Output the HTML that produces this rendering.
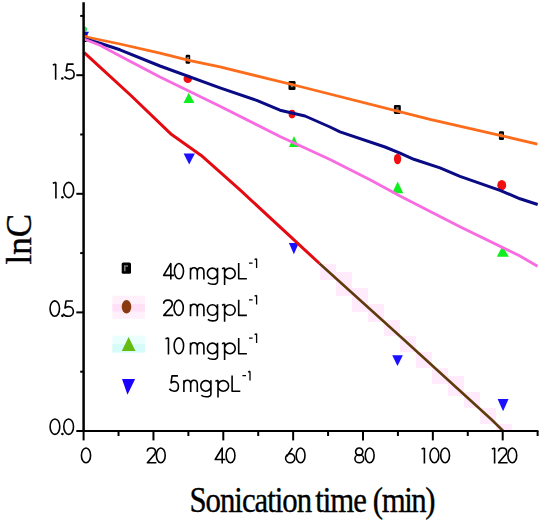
<!DOCTYPE html>
<html><head><meta charset="utf-8"><style>
html,body{margin:0;padding:0;background:#fff;width:550px;height:523px;overflow:hidden}
svg{display:block}
</style></head><body>
<svg width="550" height="523" viewBox="0 0 550 523">
<rect x="320" y="264" width="16" height="16" fill="#ffebfb"/><rect x="336" y="272" width="16" height="24" fill="#ffebfb"/><rect x="352" y="288" width="16" height="24" fill="#ffebfb"/><rect x="368" y="304" width="16" height="18" fill="#ffebfb"/><rect x="384" y="320" width="16" height="16" fill="#ffebfb"/><rect x="400" y="336" width="16" height="16" fill="#ffebfb"/><rect x="416" y="352" width="16" height="16" fill="#ffebfb"/><rect x="432" y="368" width="16" height="16" fill="#ffebfb"/><rect x="448" y="376" width="16" height="20" fill="#ffebfb"/><rect x="464" y="392" width="16" height="16" fill="#ffebfb"/><rect x="480" y="408" width="16" height="16" fill="#ffebfb"/><rect x="496" y="424" width="16" height="7" fill="#ffebfb"/>
<defs><clipPath id="pa"><rect x="84" y="0" width="470" height="431"/></clipPath></defs>
<g clip-path="url(#pa)">
<rect x="80.0" y="33.0" width="7.0" height="9.0" rx="1.3" fill="#000"/><rect x="82.3" y="35.2" width="2.4" height="4" fill="#777"/>
<ellipse cx="83.80" cy="36.25" rx="3.80" ry="4.25" fill="#f01010"/>
<ellipse cx="84.6" cy="29.2" rx="2.4" ry="2.6" fill="#30e060"/>
<polygon points="83,31.8 89,31.8 87.3,35 83,35" fill="#1010d0"/>
</g>
<rect x="185.6" y="54.7" width="4.6" height="9.1" rx="1.3" fill="#000"/><rect x="186.7" y="57.0" width="2.4" height="4" fill="#777"/>
<ellipse cx="187.80" cy="78.85" rx="4.30" ry="4.15" fill="#f01010"/>
<polygon points="188.7,92.7 194.4,103.0 183.5,103.0" fill="#10ee20"/>
<polygon points="183.6,153.5 194.9,153.5 189.2,164.6" fill="#1a10ff"/>
<rect x="288.5" y="80.9" width="7.0" height="9.1" rx="1.3" fill="#000"/><rect x="290.8" y="83.2" width="2.4" height="4" fill="#777"/>
<ellipse cx="292.05" cy="114.10" rx="3.45" ry="4.30" fill="#f01010"/>
<polygon points="294.0,136.1 298.9,147.0 289.0,147.0" fill="#10ee20"/>
<polygon points="288.9,243.1 298.8,243.1 293.9,254.2" fill="#1a10ff"/>
<rect x="393.9" y="105.1" width="6.9" height="8.8" rx="1.3" fill="#000"/><rect x="396.2" y="107.2" width="2.4" height="4" fill="#777"/>
<ellipse cx="397.55" cy="159.00" rx="3.65" ry="5.20" fill="#f01010"/>
<polygon points="397.7,181.6 403.3,193.2 392.0,193.2" fill="#10ee20"/>
<polygon points="392.2,355.3 402.9,355.3 397.5,366.0" fill="#1a10ff"/>
<rect x="498.9" y="131.3" width="5.1" height="8.8" rx="1.3" fill="#000"/><rect x="500.2" y="133.4" width="2.4" height="4" fill="#777"/>
<ellipse cx="501.75" cy="185.15" rx="4.45" ry="5.15" fill="#f01010"/>
<polygon points="502.5,246.1 508.8,256.7 496.8,256.7" fill="#10ee20"/>
<polygon points="497.6,399.0 508.5,399.0 503.1,411.2" fill="#1a10ff"/>
<polyline points="84.0,36.5 120.0,44.0 160.0,53.1 190.0,60.6 220.0,66.9 300.0,86.5 430.0,119.4 500.0,135.3 537.4,144.2" fill="none" stroke="#fc6c1a" stroke-width="2.8" stroke-linejoin="round" stroke-linecap="butt"/>
<polyline points="84.0,38.8 100.0,43.3 120.0,49.8 160.0,66.0 220.0,87.8 256.7,100.4 280.0,110.2 305.0,116.0 330.0,127.0 340.0,131.8 385.0,147.0 400.0,153.2 413.8,159.3 440.0,167.9 460.0,176.4 500.0,190.3 520.0,198.8 537.7,204.5" fill="none" stroke="#0a0a84" stroke-width="3" stroke-linejoin="round" stroke-linecap="butt"/>
<polyline points="84.0,39.0 100.0,45.2 120.0,56.0 160.0,77.0 220.0,106.2 280.0,136.5 330.0,159.6 370.0,179.7 400.0,196.1 460.0,226.8 520.0,256.0 537.5,266.3" fill="none" stroke="#f76ce0" stroke-width="2.8" stroke-linejoin="round" stroke-linecap="butt"/>
<polyline points="84.2,52.6 100.0,67.1 130.4,95.0 171.6,134.6 201.2,155.4 240.0,189.9 319.5,263.5" fill="none" stroke="#e40a12" stroke-width="3" stroke-linejoin="round" stroke-linecap="butt"/>
<polyline points="319.5,263.5 404.2,340.0 492.0,420.0 503.2,431.0" fill="none" stroke="#603a0c" stroke-width="2.6" stroke-linejoin="round" stroke-linecap="butt"/>
<g stroke="#000" fill="none">
<line x1="83.6" y1="2.3" x2="83.6" y2="432" stroke-width="2.5"/>
<line x1="82.4" y1="431" x2="538.4" y2="431" stroke-width="2"/>
<line x1="76.3" y1="431.00" x2="83" y2="431.00" stroke-width="2"/>
<line x1="76.3" y1="312.40" x2="83" y2="312.40" stroke-width="2"/>
<line x1="76.3" y1="193.80" x2="83" y2="193.80" stroke-width="2"/>
<line x1="76.3" y1="75.20" x2="83" y2="75.20" stroke-width="2"/>
<line x1="80.2" y1="371.70" x2="83" y2="371.70" stroke-width="2"/>
<line x1="80.2" y1="253.10" x2="83" y2="253.10" stroke-width="2"/>
<line x1="80.2" y1="134.50" x2="83" y2="134.50" stroke-width="2"/>
<line x1="80.2" y1="15.90" x2="83" y2="15.90" stroke-width="2"/>
<line x1="83.60" y1="431" x2="83.60" y2="440.4" stroke-width="2"/>
<line x1="153.45" y1="431" x2="153.45" y2="440.4" stroke-width="2"/>
<line x1="223.30" y1="431" x2="223.30" y2="440.4" stroke-width="2"/>
<line x1="293.15" y1="431" x2="293.15" y2="440.4" stroke-width="2"/>
<line x1="363.00" y1="431" x2="363.00" y2="440.4" stroke-width="2"/>
<line x1="432.85" y1="431" x2="432.85" y2="440.4" stroke-width="2"/>
<line x1="502.70" y1="431" x2="502.70" y2="440.4" stroke-width="2"/>
<line x1="118.53" y1="431" x2="118.53" y2="436" stroke-width="2"/>
<line x1="188.38" y1="431" x2="188.38" y2="436" stroke-width="2"/>
<line x1="258.23" y1="431" x2="258.23" y2="436" stroke-width="2"/>
<line x1="328.08" y1="431" x2="328.08" y2="436" stroke-width="2"/>
<line x1="397.92" y1="431" x2="397.92" y2="436" stroke-width="2"/>
<line x1="467.77" y1="431" x2="467.77" y2="436" stroke-width="2"/>
<line x1="537.62" y1="431" x2="537.62" y2="436" stroke-width="2"/>
</g>
<path d="M 52.81,64.92 L 55.64,64.01 M 55.64,64.01 L 55.64,79.80" fill="none" stroke="#000" stroke-width="1.6" stroke-linejoin="round"/><circle cx="62.31" cy="78.59" r="1.27" fill="#000"/><path d="M 73.62,64.11 L 67.24,64.11 L 66.23,70.99 C 67.24,70.08 68.46,69.68 69.67,69.68 C 72.41,69.68 74.13,71.80 74.13,74.33 C 74.13,77.17 72.10,78.99 69.47,78.99 C 67.24,78.99 65.42,77.98 64.41,76.56" fill="none" stroke="#000" stroke-width="1.6" stroke-linejoin="round"/>
<path d="M 52.80,183.26 L 55.93,182.33 M 55.93,182.33 L 55.93,198.50" fill="none" stroke="#000" stroke-width="1.6" stroke-linejoin="round"/><circle cx="62.44" cy="197.26" r="1.30" fill="#000"/><ellipse cx="68.72" cy="190.00" rx="4.93" ry="7.67" fill="none" stroke="#000" stroke-width="1.6"/>
<ellipse cx="54.78" cy="308.55" rx="4.73" ry="7.72" fill="none" stroke="#000" stroke-width="1.6"/><circle cx="62.39" cy="315.85" r="1.30" fill="#000"/><path d="M 72.83,300.94 L 66.07,300.94 L 64.99,308.03 C 66.07,307.09 67.36,306.67 68.64,306.67 C 71.54,306.67 73.37,308.86 73.37,311.47 C 73.37,314.39 71.22,316.27 68.43,316.27 C 66.07,316.27 64.13,315.22 63.06,313.76" fill="none" stroke="#000" stroke-width="1.6" stroke-linejoin="round"/>
<ellipse cx="54.95" cy="426.65" rx="4.86" ry="7.72" fill="none" stroke="#000" stroke-width="1.6"/><circle cx="62.43" cy="433.95" r="1.30" fill="#000"/><ellipse cx="68.65" cy="426.65" rx="4.86" ry="7.72" fill="none" stroke="#000" stroke-width="1.6"/>
<ellipse cx="86.01" cy="455.40" rx="4.58" ry="7.40" fill="none" stroke="#000" stroke-width="1.6"/>
<path d="M 147.30,451.60 C 147.30,449.20 149.10,448.00 151.40,448.00 C 153.80,448.00 155.50,449.50 155.50,451.70 C 155.50,453.10 154.90,454.10 154.00,455.10 L 147.40,462.80 L 156.40,462.80" fill="none" stroke="#000" stroke-width="1.6" stroke-linejoin="round"/><ellipse cx="160.80" cy="455.40" rx="4.40" ry="7.40" fill="none" stroke="#000" stroke-width="1.6"/>
<path d="M 222.20,463.60 L 222.20,448.00 L 215.20,459.50 L 225.40,459.50" fill="none" stroke="#000" stroke-width="1.6" stroke-linejoin="round"/><ellipse cx="230.50" cy="455.40" rx="4.40" ry="7.40" fill="none" stroke="#000" stroke-width="1.6"/>
<path d="M 292.40,448.00 L 286.90,456.20 M 294.80,458.20 A 4.60,4.60 0 1 1 285.60,458.20 A 4.60,4.60 0 1 1 294.80,458.20" fill="none" stroke="#000" stroke-width="1.6" stroke-linejoin="round"/><ellipse cx="300.60" cy="455.40" rx="4.40" ry="7.40" fill="none" stroke="#000" stroke-width="1.6"/>
<path d="M 362.80,451.70 A 3.60,3.70 0 1 1 355.60,451.70 A 3.60,3.70 0 1 1 362.80,451.70 M 363.70,458.80 A 4.40,4.00 0 1 1 354.90,458.80 A 4.40,4.00 0 1 1 363.70,458.80" fill="none" stroke="#000" stroke-width="1.6" stroke-linejoin="round"/><ellipse cx="369.70" cy="455.40" rx="4.40" ry="7.40" fill="none" stroke="#000" stroke-width="1.6"/>
<path d="M 421.60,448.90 L 424.40,448.00 M 424.40,448.00 L 424.40,463.60" fill="none" stroke="#000" stroke-width="1.6" stroke-linejoin="round"/><ellipse cx="434.40" cy="455.40" rx="4.40" ry="7.40" fill="none" stroke="#000" stroke-width="1.6"/><ellipse cx="445.10" cy="455.40" rx="4.40" ry="7.40" fill="none" stroke="#000" stroke-width="1.6"/>
<path d="M 491.80,448.90 L 494.60,448.00 M 494.60,448.00 L 494.60,463.60" fill="none" stroke="#000" stroke-width="1.6" stroke-linejoin="round"/><path d="M 498.50,451.60 C 498.50,449.20 500.30,448.00 502.60,448.00 C 505.00,448.00 506.70,449.50 506.70,451.70 C 506.70,453.10 506.10,454.10 505.20,455.10 L 498.60,462.80 L 507.60,462.80" fill="none" stroke="#000" stroke-width="1.6" stroke-linejoin="round"/><ellipse cx="512.30" cy="455.40" rx="4.40" ry="7.40" fill="none" stroke="#000" stroke-width="1.6"/>
<text transform="translate(189.5,511.6) scale(0.88,1)" style="font-family:'Liberation Serif',serif;font-size:35px;letter-spacing:-1.15px;word-spacing:0px" stroke="#000" stroke-width="0.35">Sonication <tspan dx="-2.8">time</tspan> <tspan dx="0.2" letter-spacing="-1.6">(min)</tspan></text>
<text transform="translate(31.4,264.5) rotate(-90)" style="font-family:'Liberation Serif',serif;font-size:35px" stroke="#000" stroke-width="0.4">lnC</text>
<rect x="112.4" y="295.8" width="32.6" height="23" fill="#fff0fb"/><rect x="112.4" y="304" width="32.6" height="7.5" fill="#ffe0f6"/>
<rect x="112.4" y="335.7" width="32.6" height="16.8" fill="#eafffd"/><rect x="112.4" y="344" width="32.6" height="8.5" fill="#d6fbfb"/>
<rect x="121.7" y="262.6" width="9.3" height="11.2" rx="1.5" fill="#000"/><path d="M124.8,271.2 L124.8,266 L128,266" stroke="#777" stroke-width="1.6" fill="none"/>
<ellipse cx="126.5" cy="306.8" rx="4.8" ry="6.8" fill="#8a3a10"/>
<polygon points="128.6,337 135.5,351 121.8,351" fill="#66bb11"/>
<polygon points="122,379.1 135.1,379.1 127.5,394.7" fill="#1a00ff"/>
<path d="M 170.84,279.60 L 170.84,263.52 L 163.62,275.38 L 174.14,275.38" fill="none" stroke="#000" stroke-width="1.6" stroke-linejoin="round"/><ellipse cx="178.96" cy="271.15" rx="4.53" ry="7.63" fill="none" stroke="#000" stroke-width="1.6"/>
<path d="M 190.50,279.60 L 190.50,267.70 M 190.50,272.00 C 190.50,269.00 192.10,267.70 194.00,267.70 C 195.90,267.70 197.30,269.00 197.30,272.00 L 197.30,279.60 M 197.30,272.00 C 197.30,269.00 198.70,267.70 200.60,267.70 C 202.50,267.70 203.90,269.00 203.90,272.00 L 203.90,279.60" fill="none" stroke="#000" stroke-width="1.6" stroke-linejoin="round"/>
<path d="M 217.50,273.40 A 5.05,5.3 0 1 1 207.40,273.40 A 5.05,5.3 0 1 1 217.50,273.40 M 217.50,267.70 L 217.50,281.40 C 217.50,283.80 215.50,284.30 212.70,284.30 C 210.60,284.30 208.90,283.80 207.90,282.80" fill="none" stroke="#000" stroke-width="1.6" stroke-linejoin="round"/>
<path d="M 224.60,285.10 L 224.60,267.70 M 235.20,273.40 A 5.3,5.3 0 1 1 224.60,273.40 A 5.3,5.3 0 1 1 235.20,273.40 M 222.00,268.70 L 224.60,267.70" fill="none" stroke="#000" stroke-width="1.6" stroke-linejoin="round"/>
<path d="M 238.70,263.10 L 238.70,278.80 L 246.90,278.80" fill="none" stroke="#000" stroke-width="1.6" stroke-linejoin="round"/>
<path d="M 249.00,263.20 L 252.60,263.20 M 256.60,258.70 L 256.60,268.00 M 254.60,259.60 L 256.60,258.70" fill="none" stroke="#000" stroke-width="1.3" stroke-linejoin="round"/>
<path d="M 163.65,303.83 C 163.65,301.36 165.54,300.12 167.96,300.12 C 170.48,300.12 172.26,301.67 172.26,303.94 C 172.26,305.38 171.63,306.41 170.69,307.44 L 163.75,315.38 L 173.21,315.38" fill="none" stroke="#000" stroke-width="1.6" stroke-linejoin="round"/><ellipse cx="178.67" cy="307.75" rx="4.62" ry="7.63" fill="none" stroke="#000" stroke-width="1.6"/>
<path d="M 190.50,316.20 L 190.50,304.30 M 190.50,308.60 C 190.50,305.60 192.10,304.30 194.00,304.30 C 195.90,304.30 197.30,305.60 197.30,308.60 L 197.30,316.20 M 197.30,308.60 C 197.30,305.60 198.70,304.30 200.60,304.30 C 202.50,304.30 203.90,305.60 203.90,308.60 L 203.90,316.20" fill="none" stroke="#000" stroke-width="1.6" stroke-linejoin="round"/>
<path d="M 217.50,310.00 A 5.05,5.3 0 1 1 207.40,310.00 A 5.05,5.3 0 1 1 217.50,310.00 M 217.50,304.30 L 217.50,318.00 C 217.50,320.40 215.50,320.90 212.70,320.90 C 210.60,320.90 208.90,320.40 207.90,319.40" fill="none" stroke="#000" stroke-width="1.6" stroke-linejoin="round"/>
<path d="M 224.60,321.70 L 224.60,304.30 M 235.20,310.00 A 5.3,5.3 0 1 1 224.60,310.00 A 5.3,5.3 0 1 1 235.20,310.00 M 222.00,305.30 L 224.60,304.30" fill="none" stroke="#000" stroke-width="1.6" stroke-linejoin="round"/>
<path d="M 238.70,299.70 L 238.70,315.40 L 246.90,315.40" fill="none" stroke="#000" stroke-width="1.6" stroke-linejoin="round"/>
<path d="M 249.00,299.80 L 252.60,299.80 M 256.60,295.30 L 256.60,304.60 M 254.60,296.20 L 256.60,295.30" fill="none" stroke="#000" stroke-width="1.3" stroke-linejoin="round"/>
<path d="M 165.46,338.82 L 168.46,337.86 M 168.46,337.86 L 168.46,354.60" fill="none" stroke="#000" stroke-width="1.6" stroke-linejoin="round"/><ellipse cx="178.88" cy="345.80" rx="4.72" ry="7.94" fill="none" stroke="#000" stroke-width="1.6"/>
<path d="M 190.50,354.60 L 190.50,342.70 M 190.50,347.00 C 190.50,344.00 192.10,342.70 194.00,342.70 C 195.90,342.70 197.30,344.00 197.30,347.00 L 197.30,354.60 M 197.30,347.00 C 197.30,344.00 198.70,342.70 200.60,342.70 C 202.50,342.70 203.90,344.00 203.90,347.00 L 203.90,354.60" fill="none" stroke="#000" stroke-width="1.6" stroke-linejoin="round"/>
<path d="M 217.50,348.40 A 5.05,5.3 0 1 1 207.40,348.40 A 5.05,5.3 0 1 1 217.50,348.40 M 217.50,342.70 L 217.50,356.40 C 217.50,358.80 215.50,359.30 212.70,359.30 C 210.60,359.30 208.90,358.80 207.90,357.80" fill="none" stroke="#000" stroke-width="1.6" stroke-linejoin="round"/>
<path d="M 224.60,360.10 L 224.60,342.70 M 235.20,348.40 A 5.3,5.3 0 1 1 224.60,348.40 A 5.3,5.3 0 1 1 235.20,348.40 M 222.00,343.70 L 224.60,342.70" fill="none" stroke="#000" stroke-width="1.6" stroke-linejoin="round"/>
<path d="M 238.70,338.10 L 238.70,353.80 L 246.90,353.80" fill="none" stroke="#000" stroke-width="1.6" stroke-linejoin="round"/>
<path d="M 249.00,338.20 L 252.60,338.20 M 256.60,333.70 L 256.60,343.00 M 254.60,334.60 L 256.60,333.70" fill="none" stroke="#000" stroke-width="1.3" stroke-linejoin="round"/>
<path d="M 177.94,375.84 L 172.00,375.84 L 171.05,382.98 C 172.00,382.03 173.13,381.61 174.26,381.61 C 176.81,381.61 178.42,383.81 178.42,386.44 C 178.42,389.37 176.53,391.26 174.07,391.26 C 172.00,391.26 170.30,390.21 169.36,388.74" fill="none" stroke="#000" stroke-width="1.6" stroke-linejoin="round"/>
<path d="M 183.90,392.10 L 183.90,380.20 M 183.90,384.50 C 183.90,381.50 185.50,380.20 187.40,380.20 C 189.30,380.20 190.70,381.50 190.70,384.50 L 190.70,392.10 M 190.70,384.50 C 190.70,381.50 192.10,380.20 194.00,380.20 C 195.90,380.20 197.30,381.50 197.30,384.50 L 197.30,392.10" fill="none" stroke="#000" stroke-width="1.6" stroke-linejoin="round"/>
<path d="M 210.90,385.90 A 5.05,5.3 0 1 1 200.80,385.90 A 5.05,5.3 0 1 1 210.90,385.90 M 210.90,380.20 L 210.90,393.90 C 210.90,396.30 208.90,396.80 206.10,396.80 C 204.00,396.80 202.30,396.30 201.30,395.30" fill="none" stroke="#000" stroke-width="1.6" stroke-linejoin="round"/>
<path d="M 218.00,397.60 L 218.00,380.20 M 228.60,385.90 A 5.3,5.3 0 1 1 218.00,385.90 A 5.3,5.3 0 1 1 228.60,385.90 M 215.40,381.20 L 218.00,380.20" fill="none" stroke="#000" stroke-width="1.6" stroke-linejoin="round"/>
<path d="M 232.10,375.60 L 232.10,391.30 L 240.30,391.30" fill="none" stroke="#000" stroke-width="1.6" stroke-linejoin="round"/>
<path d="M 242.40,375.70 L 246.00,375.70 M 250.00,371.20 L 250.00,380.50 M 248.00,372.10 L 250.00,371.20" fill="none" stroke="#000" stroke-width="1.3" stroke-linejoin="round"/>
</svg>
</body></html>
